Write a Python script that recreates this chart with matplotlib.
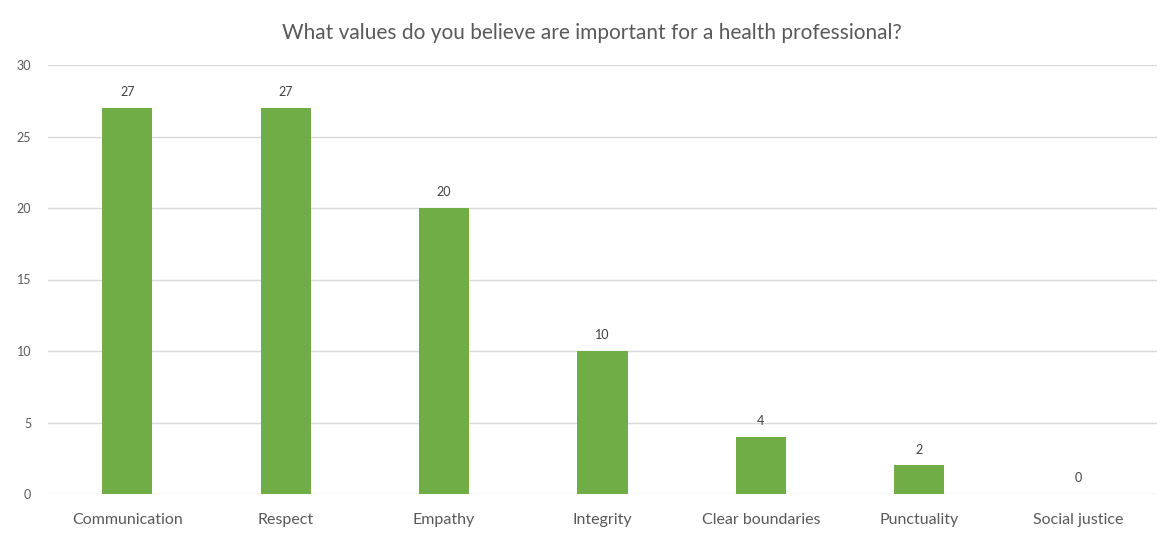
import matplotlib.pyplot as plt

plt.rcParams['font.family'] = ['Lato', 'DejaVu Sans']

# Data
categories = ['Communication', 'Respect', 'Empathy', 'Integrity',
              'Clear boundaries', 'Punctuality', 'Social justice']
counts = [27, 27, 20, 10, 4, 2, 0]
y_ticks = [0, 5, 10, 15, 20, 25, 30]

TEXT = '#595959'
BAR = '#70AD47'
GRID = '#D9D9D9'

fig = plt.figure(figsize=(11.64, 5.44), dpi=100)
ax = fig.add_axes([48 / 1164, 1 - 494 / 544, (1157 - 48) / 1164, (494 - 65) / 544])

x = range(len(categories))
ax.bar(x, counts, width=0.316, color=BAR, zorder=3)

for xi, v in zip(x, counts):
    ax.annotate(str(v), (xi, v), xytext=(0, 7), textcoords='offset points',
                ha='center', va='bottom', fontsize=9, color='#404040')

ax.set_xlim(-0.5, len(categories) - 0.5)
ax.set_ylim(0, 30)
ax.set_yticks(y_ticks)
ax.set_xticks(list(x))
ax.set_xticklabels(categories, fontsize=11.5, color=TEXT)
ax.tick_params(axis='y', labelsize=9, colors=TEXT, length=0, pad=12)
ax.tick_params(axis='x', length=0, pad=14)
ax.yaxis.grid(True, color=GRID, linewidth=1, zorder=0)
for s in ax.spines.values():
    s.set_visible(False)

fig.text(592 / 1164, 1 - 33 / 544, 'What values do you believe are important for a health professional?',
         ha='center', va='center', fontsize=15, color=TEXT)

fig.savefig('out.png', dpi=100, facecolor='white')
